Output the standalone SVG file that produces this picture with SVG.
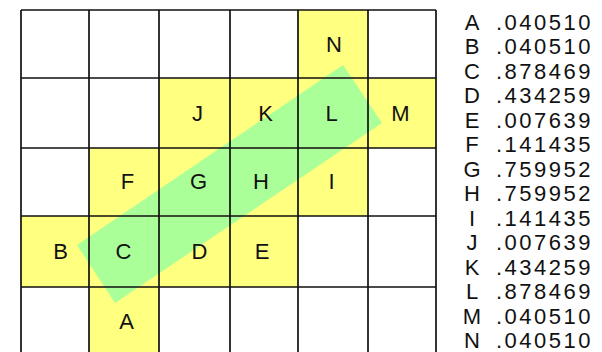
<svg xmlns="http://www.w3.org/2000/svg" width="602" height="352" viewBox="0 0 602 352">
<style>
.y{fill:#ffff80}
.band{fill:#aaff99}
.g{stroke:#111;stroke-width:1.7;fill:none}
.lb{font-family:"Liberation Sans",Arial,sans-serif;font-size:22px;fill:#111;text-anchor:middle}
.key{font-family:"Liberation Sans",Arial,sans-serif;font-size:22px;fill:#111;text-anchor:middle}
.val{font-family:"Liberation Sans",Arial,sans-serif;font-size:22px;fill:#111;letter-spacing:2.5px}
</style>
<rect x="0" y="0" width="602" height="352" fill="#fff"/>
<g id="fills">
<rect class="y" x="298" y="10" width="70" height="68"/>
<rect class="y" x="159" y="78" width="277" height="70"/>
<rect class="y" x="89" y="148" width="279" height="68"/>
<rect class="y" x="21" y="216" width="277" height="71"/>
<rect class="y" x="89" y="287" width="70" height="69"/>
</g>
<polygon id="band" class="band" points="77,245 343,65 382,123 115,303"/>
<g id="grid" class="g">
<path d="M21,10V356M89,10V356M159,10V356M230,10V356M298,10V356M368,10V356M436,10V356"/>
<path d="M21,10H436M21,78H436M21,148H436M21,216H436M21,287H436"/>
</g>
<g id="connectors"></g>
<g id="cell-N"><text class="lb" x="334" y="52">N</text></g>
<g id="cell-J"><text class="lb" x="197.5" y="121">J</text></g>
<g id="cell-K"><text class="lb" x="265.5" y="121">K</text></g>
<g id="cell-L"><text class="lb" x="331.5" y="121">L</text></g>
<g id="cell-M"><text class="lb" x="400.5" y="121">M</text></g>
<g id="cell-F"><text class="lb" x="127.5" y="189">F</text></g>
<g id="cell-G"><text class="lb" x="198.5" y="189">G</text></g>
<g id="cell-H"><text class="lb" x="261" y="189">H</text></g>
<g id="cell-I"><text class="lb" x="331.5" y="189">I</text></g>
<g id="cell-B"><text class="lb" x="60.5" y="259">B</text></g>
<g id="cell-C"><text class="lb" x="123.5" y="259">C</text></g>
<g id="cell-D"><text class="lb" x="199.5" y="259">D</text></g>
<g id="cell-E"><text class="lb" x="262" y="259">E</text></g>
<g id="cell-A"><text class="lb" x="126.5" y="329">A</text></g>
<g id="legend">
<text class="key" x="472" y="29.5">A</text><text class="val" x="496" y="29.5">.040510</text>
<text class="key" x="472" y="54">B</text><text class="val" x="496" y="54">.040510</text>
<text class="key" x="472" y="78.5">C</text><text class="val" x="496" y="78.5">.878469</text>
<text class="key" x="472" y="103">D</text><text class="val" x="496" y="103">.434259</text>
<text class="key" x="472" y="127.5">E</text><text class="val" x="496" y="127.5">.007639</text>
<text class="key" x="472" y="152">F</text><text class="val" x="496" y="152">.141435</text>
<text class="key" x="472" y="176.5">G</text><text class="val" x="496" y="176.5">.759952</text>
<text class="key" x="472" y="201">H</text><text class="val" x="496" y="201">.759952</text>
<text class="key" x="472" y="225.5">I</text><text class="val" x="496" y="225.5">.141435</text>
<text class="key" x="472" y="250">J</text><text class="val" x="496" y="250">.007639</text>
<text class="key" x="472" y="274.5">K</text><text class="val" x="496" y="274.5">.434259</text>
<text class="key" x="472" y="299">L</text><text class="val" x="496" y="299">.878469</text>
<text class="key" x="472" y="323.5">M</text><text class="val" x="496" y="323.5">.040510</text>
<text class="key" x="472" y="348">N</text><text class="val" x="496" y="348">.040510</text>
</g>
</svg>
